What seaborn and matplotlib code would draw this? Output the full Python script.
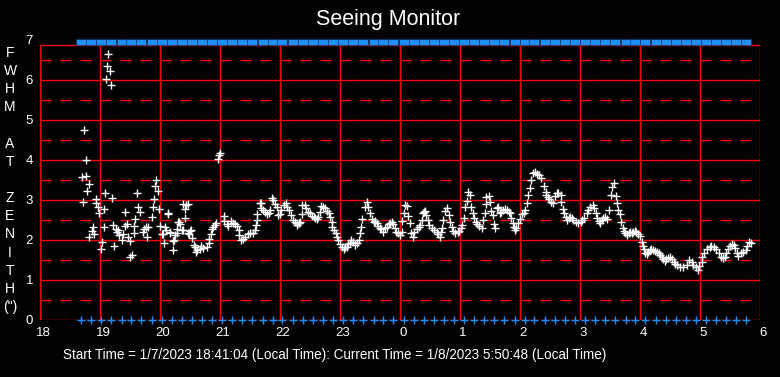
import matplotlib
matplotlib.use("Agg")
import matplotlib.pyplot as plt
import matplotlib.transforms as mtransforms
import seaborn as sns
import pandas as pd

# ---------------- data ----------------
# seeing measurements: time (hours since midnight of 1/7, >24 = next day) and FWHM (arcsec)
seeing_time = [
    18.74, 18.76, 18.705, 18.77, 18.81, 18.79, 18.72, 18.93, 18.94, 18.97, 18.99, 19.07, 19.09, 19.20,
    18.88, 18.86, 18.82, 18.90, 19.06, 19.04, 19.02, 19.24, 19.14, 19.12, 19.16, 19.10, 19.19,
    19.22, 19.26, 19.29, 19.32, 19.36, 19.30, 19.42, 19.41, 19.45, 19.39, 19.47, 19.50, 19.50, 19.54,
    19.61, 19.64, 19.67, 19.59, 19.57, 19.57, 19.73, 19.77, 19.80, 19.72, 19.79, 19.87, 19.89, 19.99,
    19.90, 19.97, 19.92, 19.94, 20.00, 20.03, 20.06, 20.13, 20.08, 20.16, 20.21, 20.22, 20.05, 20.10,
    20.14, 20.17, 20.25, 20.31, 20.33, 20.36, 20.42, 20.39, 20.44, 20.46, 20.42, 20.47, 20.52, 20.54,
    20.30, 20.29, 20.28, 20.23, 20.39, 20.48, 20.50,
    20.56, 20.58, 20.60, 20.62, 20.66, 20.69, 20.72, 20.78, 20.81, 20.82, 20.85, 20.86, 20.89, 20.92, 20.94,
    20.96, 20.98, 21.00,
    21.06, 21.07, 21.11, 21.14, 21.18, 21.21, 21.25, 21.28, 21.31, 21.32, 21.35, 21.39, 21.42, 21.46,
    21.50, 21.55, 21.58, 21.60, 21.62, 21.61,
    21.66, 21.68, 21.69, 21.72, 21.75, 21.78, 21.81, 21.83, 21.86, 21.89, 21.92, 21.95, 21.97, 22.00,
    22.01, 22.06, 22.10, 22.12, 22.15, 22.18, 22.21, 22.25, 22.29, 22.32,
    22.28, 22.31, 22.33, 22.36,
    22.37, 22.42, 22.44, 22.47, 22.50, 22.53, 22.56, 22.58, 22.61, 22.64, 22.67, 22.69, 22.72, 22.75,
    22.78, 22.81, 22.83, 22.86, 22.87, 22.90, 22.93, 22.95, 22.97, 23.00, 23.03, 23.06, 23.08, 23.11,
    23.14, 23.17, 23.19, 23.22, 23.25, 23.28, 23.31, 23.33, 23.35, 23.37, 23.41, 23.45, 23.47, 23.50,
    23.53, 23.56, 23.58, 23.61, 23.64, 23.67, 23.69, 23.72, 23.75, 23.78, 23.81, 23.83, 23.86, 23.89,
    23.92, 23.94, 23.97, 24.00, 24.03, 24.04, 24.06, 24.08, 24.11, 24.14, 24.16, 24.18, 24.21, 24.24,
    24.28, 24.31, 24.33, 24.36, 24.38, 24.41,
    24.40, 24.43, 24.46, 24.49, 24.53, 24.57, 24.61, 24.64, 24.66, 24.68, 24.70, 24.72, 24.75, 24.79,
    24.81, 24.83, 24.86, 24.89, 24.92, 24.96, 24.99, 25.01, 25.03, 25.06, 25.08, 25.11, 25.14, 25.17,
    25.19, 25.21, 25.23, 25.26, 25.29, 25.32, 25.36, 25.39, 25.42, 25.43, 25.44, 25.48, 25.50, 25.51,
    25.55, 25.57, 25.59, 25.61, 25.64, 25.67, 25.69, 25.72, 25.75, 25.78, 25.81, 25.83, 25.85, 25.88,
    25.90, 25.92, 25.94, 25.97, 26.00, 26.03, 26.06, 26.08, 26.11, 26.14, 26.17, 26.19, 26.22, 26.25,
    26.28, 26.31, 26.35, 26.40, 26.43, 26.47,
    26.44, 26.48, 26.52, 26.55, 26.58, 26.61, 26.64, 26.68, 26.69, 26.71, 26.74, 26.76, 26.78, 26.81,
    26.83, 26.86, 26.89, 26.93, 26.97, 27.01, 27.04, 27.07, 27.11, 27.14, 27.17, 27.21, 27.24, 27.26,
    27.28, 27.31, 27.33, 27.36, 27.39, 27.42, 27.45, 27.48, 27.52, 27.54, 27.57, 27.60, 27.62, 27.64,
    27.66, 27.68, 27.71, 27.73, 27.75, 27.78, 27.81, 27.83, 27.86, 27.89, 27.92, 27.94, 27.97, 28.00,
    28.03, 28.05, 28.06, 28.08, 28.11, 28.14, 28.17, 28.19, 28.22, 28.25, 28.28, 28.31, 28.33, 28.36,
    28.39, 28.42, 28.44, 28.47, 28.50, 28.53, 28.56, 28.58,
    28.61, 28.67, 28.72, 28.78, 28.82, 28.86, 28.89, 28.93, 28.96, 28.99, 29.03, 29.04, 29.07, 29.11,
    29.16, 29.19, 29.23, 29.27, 29.31, 29.35, 29.38, 29.42, 29.44, 29.47, 29.50, 29.53, 29.56, 29.58,
    29.61, 29.64, 29.68, 29.72, 29.77, 29.79, 29.81, 29.85,
]
seeing_fwhm = [
    4.75, 3.99, 3.57, 3.59, 3.39, 3.22, 2.94, 3.02, 2.92, 2.83, 2.67, 2.77, 3.17, 3.04,
    2.33, 2.23, 2.07, 2.15, 2.32, 1.95, 1.77, 1.84, 6.64, 6.35, 6.22, 6.02, 5.87,
    2.37, 2.28, 2.19, 2.12, 2.00, 2.26, 2.69, 2.35, 2.39, 2.16, 2.08, 1.98, 1.57, 1.62,
    3.17, 2.82, 2.69, 2.52, 2.35, 2.17, 2.27, 2.33, 2.33, 2.21, 2.07, 2.57, 2.82, 2.77,
    3.02, 3.22, 3.36, 3.49, 2.36, 2.15, 1.92, 2.67, 2.33, 2.18, 1.98, 1.75, 2.14, 2.25,
    2.65, 2.21, 2.13, 2.46, 2.40, 2.25, 2.54, 2.90, 2.88, 2.90, 2.77, 2.17, 2.25, 2.04,
    2.45, 2.27, 2.17, 2.00, 2.25, 2.15, 2.23,
    1.87, 1.82, 1.71, 1.75, 1.77, 1.85, 1.79, 1.83, 1.92, 2.02, 2.15, 2.27, 2.32, 2.37, 2.42,
    4.02, 4.13, 4.18,
    2.60, 2.48, 2.40, 2.35, 2.47, 2.43, 2.40, 2.35, 2.25, 2.13, 2.00, 2.02, 2.08, 2.15,
    2.18, 2.18, 2.25, 2.38, 2.50, 2.65,
    2.92, 2.93, 2.79, 2.75, 2.71, 2.65, 2.68, 2.75, 3.04, 3.00, 2.90, 2.83, 2.63, 2.65,
    2.75, 2.88, 2.93, 2.83, 2.75, 2.63, 2.50, 2.46, 2.38, 2.42,
    2.42, 2.43, 2.46, 2.65,
    2.88, 2.88, 2.79, 2.71, 2.67, 2.60, 2.57, 2.54, 2.52, 2.58, 2.71, 2.85, 2.82, 2.79,
    2.73, 2.67, 2.57, 2.46, 2.33, 2.25, 2.17, 2.08, 2.00, 1.90, 1.82, 1.77, 1.83, 1.83,
    1.90, 1.93, 2.00, 1.96, 1.88, 1.92, 2.00, 2.17, 2.32, 2.52, 2.82, 2.96, 2.82, 2.67,
    2.52, 2.46, 2.48, 2.42, 2.35, 2.29, 2.27, 2.21, 2.29, 2.33, 2.40, 2.43, 2.46, 2.40,
    2.29, 2.21, 2.17, 2.13, 2.21, 2.48, 2.67, 2.88, 2.85, 2.60, 2.43, 2.17, 2.08, 2.21,
    2.27, 2.32, 2.38, 2.50, 2.68, 2.73,
    2.71, 2.63, 2.50, 2.38, 2.29, 2.25, 2.21, 2.15, 2.07, 2.21, 2.29, 2.50, 2.73, 2.79,
    2.63, 2.46, 2.33, 2.23, 2.18, 2.21, 2.23, 2.29, 2.38, 2.54, 2.83, 2.98, 3.21, 3.13,
    2.83, 2.68, 2.54, 2.46, 2.40, 2.35, 2.29, 2.50, 2.68, 2.90, 3.08, 3.10, 2.96, 2.73,
    2.63, 2.40, 2.29, 2.79, 2.83, 2.67, 2.71, 2.75, 2.77, 2.75, 2.71, 2.67, 2.54, 2.43,
    2.33, 2.25, 2.29, 2.42, 2.52, 2.65, 2.68, 2.75, 2.92, 3.13, 3.29, 3.50, 3.67, 3.71,
    3.65, 3.63, 3.54, 3.35, 3.21, 3.08,
    3.13, 3.02, 2.96, 2.92, 3.10, 3.17, 3.18, 3.13, 2.96, 2.77, 2.67, 2.57, 2.50, 2.54,
    2.58, 2.54, 2.50, 2.46, 2.43, 2.46, 2.50, 2.54, 2.67, 2.75, 2.83, 2.88, 2.79, 2.67,
    2.54, 2.48, 2.43, 2.50, 2.54, 2.57, 2.52, 2.75, 3.13, 3.33, 3.43, 3.10, 2.92, 2.75,
    2.65, 2.46, 2.29, 2.23, 2.17, 2.13, 2.17, 2.21, 2.18, 2.21, 2.23, 2.21, 2.15, 2.10,
    1.96, 1.85, 1.77, 1.68, 1.65, 1.71, 1.75, 1.77, 1.75, 1.73, 1.71, 1.67, 1.63, 1.57,
    1.52, 1.48, 1.52, 1.54, 1.58, 1.52, 1.46, 1.40,
    1.38, 1.33, 1.32, 1.38, 1.50, 1.46, 1.38, 1.32, 1.25, 1.35, 1.46, 1.58, 1.68, 1.77,
    1.82, 1.85, 1.83, 1.77, 1.67, 1.58, 1.54, 1.57, 1.67, 1.77, 1.85, 1.90, 1.88, 1.79,
    1.67, 1.60, 1.67, 1.71, 1.75, 1.85, 1.96, 1.92,
]

# sample-time indicators (every ~10 min)
sample_times = [
    18.68, 18.85, 19.02, 19.19, 19.36, 19.52, 19.69, 19.86, 20.03, 20.20, 20.36, 20.53, 20.70, 20.87,
    21.04, 21.20, 21.37, 21.54, 21.71, 21.88, 22.04, 22.21, 22.38, 22.55, 22.72, 22.88, 23.05, 23.22,
    23.39, 23.56, 23.72, 23.89, 24.06, 24.23, 24.40, 24.56, 24.73, 24.90, 25.07, 25.24, 25.40, 25.57,
    25.74, 25.91, 26.08, 26.24, 26.41, 26.58, 26.75, 26.92, 27.08, 27.25, 27.42, 27.59, 27.76, 27.92,
    28.09, 28.26, 28.43, 28.60, 28.76, 28.93, 29.10, 29.27, 29.44, 29.60, 29.77,
]
bottom_level = 0.0
top_level = 6.94

x_ticks = [18, 19, 20, 21, 22, 23, 24, 25, 26, 27, 28, 29, 30]
x_tick_labels = ["18", "19", "20", "21", "22", "23", "0", "1", "2", "3", "4", "5", "6"]
y_ticks = [0, 1, 2, 3, 4, 5, 6, 7]
y_label_lines = ["F", "W", "H", "M", "", "A", "T", "", "Z", "E", "N", "I", "T", "H", "(\")"]

title_text = "Seeing Monitor"
footer_text = ("Start Time = 1/7/2023 18:41:04 (Local Time): "
               "Current Time = 1/8/2023 5:50:48 (Local Time)")

# ---------------- figure ----------------
plt.rcParams["font.family"] = ["Liberation Sans", "DejaVu Sans"]

W, H = 780, 377
fig = plt.figure(figsize=(W / 100, H / 100), dpi=100, facecolor="black")
ax = fig.add_axes([40 / W, 57 / H, 720 / W, 280 / H])
ax.set_facecolor("black")
ax.set_xlim(18, 30)
ax.set_ylim(0, 7)
for s in ax.spines.values():
    s.set_visible(False)

RED = "#ff0000"
BLUE = "#1e8fff"
frame_top = 6.875

# grid / frame
ax.hlines([0.5, 1.5, 2.5, 3.5, 4.5, 5.5, 6.5], 18, 30, colors=RED, linewidth=1.0,
          linestyles=(0, (7.9, 6.5)), zorder=1)
ax.hlines([0, 1, 2, 3, 4, 5, 6, frame_top], 18, 30, colors=RED, linewidth=1.0, zorder=1)
ax.vlines(x_ticks, 0, frame_top, colors=RED, linewidth=1.0, zorder=1)

# sample markers
ax.scatter(sample_times, [bottom_level] * len(sample_times), marker="+", s=26,
           color=BLUE, linewidths=1.0, zorder=3, clip_on=False)
rect = [(-1, -0.5), (1, -0.5), (1, 0.5), (-1, 0.5), (-1, -0.5)]
ax.scatter(sample_times, [top_level] * len(sample_times), marker=rect, s=52,
           color=BLUE, edgecolors="#0a2a55", linewidths=0.4, zorder=3, clip_on=False)

# seeing data
df = pd.DataFrame({"time": seeing_time, "fwhm": seeing_fwhm})
sns.scatterplot(data=df, x="time", y="fwhm", marker="+", color="white", s=28,
                linewidth=1.0, ax=ax, zorder=4, legend=False)

ax.set_xlabel("")
ax.set_ylabel("")
ax.set_xticks(x_ticks)
ax.set_xticklabels(x_tick_labels)
ax.set_yticks(y_ticks)
ax.set_yticklabels([str(v) for v in y_ticks])
ax.tick_params(axis="both", length=0, colors="white", labelsize=9.5)
ax.tick_params(axis="x", pad=5)
ax.tick_params(axis="y", pad=5)
offset = mtransforms.ScaledTranslation(3 / 100, 0, fig.dpi_scale_trans)
for lab in ax.get_xticklabels():
    lab.set_transform(lab.get_transform() + offset)

# title
fig.text(388 / W, 1 - 20 / H, title_text, color="white", fontsize=15.5,
         ha="center", va="center")

# vertical stacked y-axis label
for i, ch in enumerate(y_label_lines):
    if ch:
        yy = 53 + 18.14 * i
        fig.text(10 / W, 1 - yy / H, ch, color="white", fontsize=10,
                 ha="center", va="center")

# footer
fig.text(335 / W, 1 - 355 / H, footer_text, color="white", fontsize=9.75,
         ha="center", va="center")

fig.savefig("out.png", dpi=100, facecolor="black")
